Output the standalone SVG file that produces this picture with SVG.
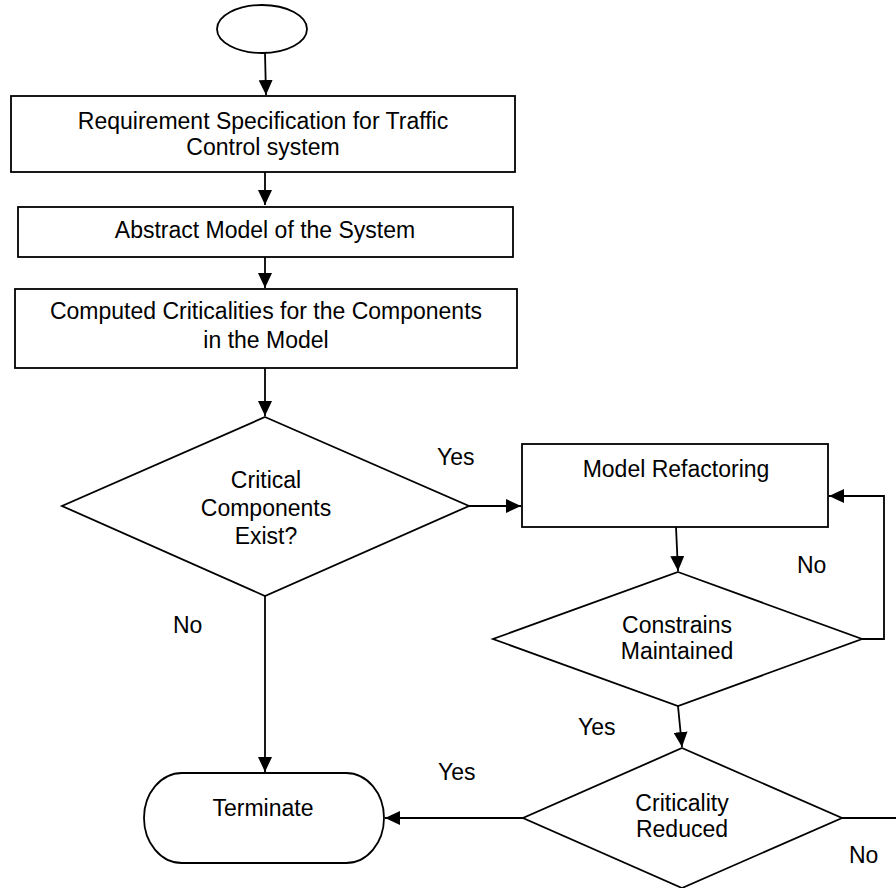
<svg xmlns="http://www.w3.org/2000/svg" width="896" height="888" viewBox="0 0 896 888">
<style>
.s{fill:#fff;stroke:#000;stroke-width:1.8}
.c{fill:none;stroke:#000;stroke-width:1.8}
text{font-family:"Liberation Sans",Arial,sans-serif;font-size:23px;fill:#000}
.m{text-anchor:middle}
</style>
<defs>
<marker id="ah" markerUnits="userSpaceOnUse" markerWidth="15" markerHeight="14" refX="15" refY="7" orient="auto">
<path d="M0,0 L15,7 L0,14 z" fill="#000"/>
</marker>
</defs>
<rect width="896" height="888" fill="#fff"/>
<g id="connectors">
<line class="c" x1="265" y1="53" x2="266" y2="95" marker-end="url(#ah)"/>
<line class="c" x1="265" y1="172" x2="265" y2="205" marker-end="url(#ah)"/>
<line class="c" x1="265" y1="257" x2="265" y2="288" marker-end="url(#ah)"/>
<line class="c" x1="265" y1="368" x2="265" y2="416" marker-end="url(#ah)"/>
<line class="c" x1="469" y1="506" x2="521" y2="506" marker-end="url(#ah)"/>
<line class="c" x1="676" y1="527" x2="678" y2="571" marker-end="url(#ah)"/>
<polyline class="c" points="862,639 884,639 884,496 829,496" marker-end="url(#ah)"/>
<line class="c" x1="678" y1="706" x2="682" y2="747" marker-end="url(#ah)"/>
<line class="c" x1="523" y1="818" x2="385" y2="818" marker-end="url(#ah)"/>
<line class="c" x1="265" y1="596" x2="265" y2="772" marker-end="url(#ah)"/>
<line class="c" x1="842" y1="818" x2="896" y2="818"/>
</g>
<g id="start"><ellipse class="s" cx="262" cy="29" rx="45" ry="24"/></g>
<g id="req"><rect class="s" x="11" y="96" width="504" height="76"/>
<text class="m" x="263" y="129">Requirement Specification for Traffic</text>
<text class="m" x="263" y="155">Control system</text></g>
<g id="abstract"><rect class="s" x="18" y="207" width="495" height="50"/>
<text class="m" x="265" y="238">Abstract Model of the System</text></g>
<g id="computed"><rect class="s" x="15" y="289" width="502" height="79"/>
<text class="m" x="266" y="319">Computed Criticalities for the Components</text>
<text class="m" x="266" y="348">in the Model</text></g>
<g id="critical"><polygon class="s" points="265,417 469,506 265,596 62,506"/>
<text class="m" x="266" y="488">Critical</text>
<text class="m" x="266" y="516">Components</text>
<text class="m" x="266" y="544">Exist?</text></g>
<g id="refactor"><rect class="s" x="522" y="444" width="306" height="83"/>
<text class="m" x="676" y="477">Model Refactoring</text></g>
<g id="constrains"><polygon class="s" points="678,572 862,639 678,706 493,639"/>
<text class="m" x="677" y="633">Constrains</text>
<text class="m" x="677" y="659">Maintained</text></g>
<g id="reduced"><polygon class="s" points="682,748 842,818 682,888 523,818"/>
<text class="m" x="682" y="811">Criticality</text>
<text class="m" x="682" y="837">Reduced</text></g>
<g id="terminate"><rect class="s" x="144" y="773" width="240" height="90" rx="38" ry="45"/>
<text class="m" x="263" y="816">Terminate</text></g>
<g id="labels">
<text x="437" y="465">Yes</text>
<text x="173" y="633">No</text>
<text x="797" y="573">No</text>
<text x="578" y="735">Yes</text>
<text x="438" y="780">Yes</text>
<text x="849" y="863">No</text>
</g>
</svg>
